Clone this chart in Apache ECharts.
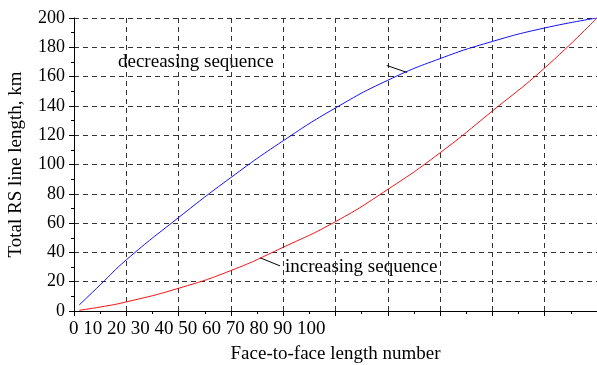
<!DOCTYPE html>
<html>
<head>
<meta charset="utf-8">
<script src="https://cdn.jsdelivr.net/npm/echarts@6/dist/echarts.min.js"></script>
<style>
  html, body { margin: 0; padding: 0; background: #fff; }
  #chart { width: 597px; height: 365px; }
</style>
</head>
<body>
<div id="chart"></div>
<script>
// data
var xValues = [1, 5, 10, 20, 30, 40, 50, 60, 70, 80, 90, 100];
var decreasing = [4.1, 17.8, 34.9, 63.8, 91.1, 116.2, 138.6, 157.5, 172.3, 184, 193.2, 200];
var increasing = [0.5, 2.7, 6.2, 15.5, 27.6, 43.5, 61, 83, 108, 136.5, 165.9, 200];
var xTickLabels = ['0', '10', '20', '30', '40', '50', '60', '70', '80', '90', '100'];

// leader lines of the two annotations, in data units
var decLeader = [[59.8, 167.6], [63.7, 162.8]];
var incLeader = [[35.6, 36.3], [39.4, 30.8]];

var FONT = 'Liberation Serif';

function pairs(xs, ys) {
    var out = [];
    for (var i = 0; i < xs.length; i++) out.push([xs[i], ys[i]]);
    return out;
}

function leader(pts) {
    return {
        silent: true,
        symbol: 'none',
        lineStyle: { color: '#000', width: 1, type: 'solid' },
        label: { show: false },
        data: [[{ coord: pts[0] }, { coord: pts[1] }]]
    };
}

var gridLine = { show: true, lineStyle: { color: '#333', width: 1, type: [5, 4] } };

var option = {
    animation: false,
    grid: { left: 74, right: 0, top: 18, bottom: 54, outerBoundsMode: 'none' },
    xAxis: [{
        type: 'value', min: 0, max: 100, interval: 10,
        name: 'Face-to-face length number', nameLocation: 'middle', nameGap: 34,
        nameTextStyle: { fontFamily: FONT, fontSize: 19, color: '#000' },
        axisLine: { show: true, onZero: false, lineStyle: { color: '#000', width: 1 } },
        axisTick: { show: true, length: 5, lineStyle: { color: '#000' } },
        minorTick: { show: true, splitNumber: 2, length: 3, lineStyle: { color: '#000' } },
        axisLabel: { show: false },
        splitLine: gridLine
    }, {
        type: 'value', min: 0, max: 100, position: 'top',
        axisLine: { show: true, lineStyle: { color: '#000', width: 1 } },
        axisTick: { show: false }, axisLabel: { show: false }, splitLine: { show: false }
    }],
    yAxis: {
        type: 'value', min: 0, max: 200, interval: 20,
        name: 'Total RS line length, km', nameLocation: 'middle', nameGap: 48,
        nameTextStyle: { fontFamily: FONT, fontSize: 19, color: '#000' },
        axisLine: { show: true, lineStyle: { color: '#000', width: 1 } },
        axisTick: { show: true, length: 5, lineStyle: { color: '#000' } },
        minorTick: { show: true, splitNumber: 2, length: 3, lineStyle: { color: '#000' } },
        axisLabel: { fontFamily: FONT, fontSize: 18, color: '#000', margin: 9 },
        splitLine: gridLine
    },
    graphic: [
        { type: 'text', left: 69, top: 320,
          style: { text: xTickLabels.join(' '), font: '19px ' + FONT, fill: '#000' } },
        { type: 'text', left: 118, top: 53,
          style: { text: 'decreasing sequence', font: '19px ' + FONT, fill: '#000' } },
        { type: 'text', left: 285, top: 258,
          style: { text: 'increasing sequence', font: '19px ' + FONT, fill: '#000' } }
    ],
    series: [{
        type: 'line', name: 'decreasing', smooth: true, showSymbol: false,
        data: pairs(xValues, decreasing),
        lineStyle: { color: '#1010f0', width: 1 },
        markLine: leader(decLeader)
    }, {
        type: 'line', name: 'increasing', smooth: true, showSymbol: false,
        data: pairs(xValues, increasing),
        lineStyle: { color: '#f01010', width: 1 },
        markLine: leader(incLeader)
    }]
};

var chart = echarts.init(document.getElementById('chart'));
chart.setOption(option);
</script>
</body>
</html>
